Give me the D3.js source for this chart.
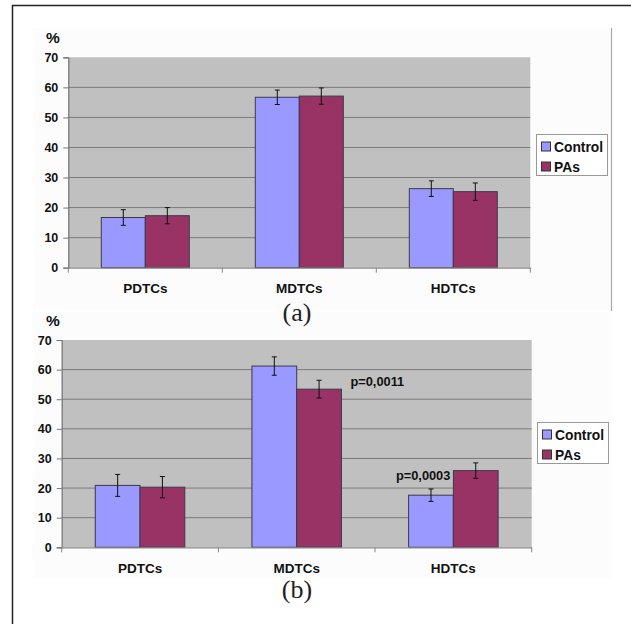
<!DOCTYPE html>
<html><head><meta charset="utf-8">
<script src="https://cdn.jsdelivr.net/npm/d3@7"></script>
<style>body{margin:0;background:#fff}svg{display:block}</style>
</head><body>
<svg id="c" width="631" height="624"></svg>
<script>
const categories = ["PDTCs", "MDTCs", "HDTCs"];
const seriesNames = ["Control", "PAs"];
const yTicks = [0, 10, 20, 30, 40, 50, 60, 70];
// panel (a)
const controlA = [16.7, 56.7, 26.3];
const controlAErr = [2.6, 2.4, 2.6];
const pasA = [17.3, 57.1, 25.3];
const pasAErr = [2.7, 2.7, 2.9];
// panel (b)
const controlB = [20.9, 61.2, 17.6];
const controlBErr = [3.7, 3.1, 2.1];
const pasB = [20.3, 53.4, 25.9];
const pasBErr = [3.6, 3.0, 2.6];
const pLabelsB = [{cat: "MDTCs", series: "PAs", text: "p=0,0011"}, {cat: "HDTCs", series: "Control", text: "p=0,0003"}];

const colors = {"Control": "#9999ff", "PAs": "#993366"};
const FONT = "Arial, 'Liberation Sans', sans-serif";
const svg = d3.select("#c");

// faint chart-area backgrounds
svg.append("rect").attr("x", 33).attr("y", 28).attr("width", 578).attr("height", 282).attr("fill", "#fcfcfc");
svg.append("rect").attr("x", 33).attr("y", 312).attr("width", 578).attr("height", 266).attr("fill", "#fcfcfc");

// outer frame
svg.append("path").attr("d", "M12.5,624 L12.5,5.5 L631,5.5").attr("fill", "none").attr("stroke", "#222").attr("stroke-width", 1.5);
svg.append("line").attr("x1", 611.5).attr("x2", 611.5).attr("y1", 28).attr("y2", 311).attr("stroke", "#aaa").attr("stroke-width", 1.2);

function panel(cfg) {
  const g = svg.append("g");
  const x = d3.scaleBand().domain(categories).range([cfg.left, cfg.right]).paddingInner(0).paddingOuter(0);
  const y = d3.scaleLinear().domain([0, 70]).range([cfg.bottom, cfg.top]);
  const bw = x.bandwidth() / 3.5;
  const xs = d3.scaleBand().domain(seriesNames).range([0, bw * 2]);
  g.append("rect").attr("x", cfg.left).attr("y", cfg.top).attr("width", cfg.right - cfg.left).attr("height", cfg.bottom - cfg.top).attr("fill", "#c0c0c0");
  g.selectAll("line.grid").data(yTicks.filter(t => t > 0 && t < 70)).join("line")
    .attr("x1", cfg.left).attr("x2", cfg.right).attr("y1", d => y(d)).attr("y2", d => y(d))
    .attr("stroke", "#7a7a7a").attr("stroke-width", 1);
  const data = [];
  categories.forEach((c, i) => {
    data.push({c, s: "Control", v: cfg.control[i], e: cfg.controlErr[i]});
    data.push({c, s: "PAs", v: cfg.pas[i], e: cfg.pasErr[i]});
  });
  const bx = d => x(d.c) + x.bandwidth() / 2 - bw + xs(d.s);
  g.selectAll("rect.bar").data(data).join("rect")
    .attr("x", bx).attr("y", d => y(d.v)).attr("width", bw).attr("height", d => y(0) - y(d.v))
    .attr("fill", d => colors[d.s]).attr("stroke", "#3a3a4a").attr("stroke-width", 1);
  const eb = g.selectAll("g.err").data(data).join("g").attr("stroke", "#111").attr("stroke-width", 1);
  eb.append("line").attr("x1", d => bx(d) + bw / 2).attr("x2", d => bx(d) + bw / 2).attr("y1", d => y(d.v + d.e)).attr("y2", d => y(d.v - d.e));
  eb.append("line").attr("x1", d => bx(d) + bw / 2 - 2.5).attr("x2", d => bx(d) + bw / 2 + 2.5).attr("y1", d => y(d.v + d.e)).attr("y2", d => y(d.v + d.e));
  eb.append("line").attr("x1", d => bx(d) + bw / 2 - 2.5).attr("x2", d => bx(d) + bw / 2 + 2.5).attr("y1", d => y(d.v - d.e)).attr("y2", d => y(d.v - d.e));
  // y axis
  const ya = g.append("g").attr("transform", `translate(${cfg.left},0)`)
    .call(d3.axisLeft(y).tickValues(yTicks).tickSize(5).tickPadding(5).tickFormat(d3.format("d")));
  ya.select(".domain").attr("stroke", "#777").attr("stroke-width", 1.2);
  ya.selectAll(".tick line").attr("stroke", "#777");
  ya.selectAll("text").attr("font-family", FONT).attr("font-weight", "bold").attr("font-size", 12.5).attr("fill", "#111");
  // x axis
  const xa = g.append("g").attr("transform", `translate(0,${cfg.bottom})`)
    .call(d3.axisBottom(x).tickSize(0).tickPadding(16));
  xa.select(".domain").attr("stroke", "#888").attr("stroke-width", 1.2);
  xa.selectAll("text").attr("font-family", FONT).attr("font-weight", "bold").attr("font-size", 13.5).attr("fill", "#111");
  g.selectAll("line.xt").data([cfg.left, ...categories.map(c => x(c) + x.bandwidth())]).join("line")
    .attr("x1", d => d).attr("x2", d => d).attr("y1", cfg.bottom).attr("y2", cfg.bottom + 5).attr("stroke", "#888");
  g.append("text").attr("x", cfg.pctX).attr("y", cfg.top - 14).attr("font-family", FONT).attr("font-weight", "bold").attr("font-size", 15.5).attr("fill", "#111").text("%");
  g.append("text").attr("x", 297).attr("y", cfg.subY).attr("text-anchor", "middle").attr("font-family", "'Times New Roman', 'Liberation Serif', serif").attr("font-size", 26).attr("fill", "#222").text(cfg.sub);
  // legend
  const lg = g.append("g").attr("transform", `translate(${cfg.leg[0]},${cfg.leg[1]})`);
  lg.append("rect").attr("x", 0).attr("y", 0).attr("width", 71).attr("height", 41).attr("fill", "#fff").attr("stroke", "#999");
  seriesNames.forEach((s, i) => {
    lg.append("rect").attr("x", 5).attr("y", 7.5 + i * 20).attr("width", 9).attr("height", 9).attr("fill", colors[s]).attr("stroke", "#333");
    lg.append("text").attr("x", 17.5).attr("y", 17 + i * 20).attr("font-family", FONT).attr("font-weight", "bold").attr("font-size", 13.8).attr("fill", "#111").text(s);
  });
  if (cfg.plabels) {
    cfg.plabels.forEach(p => {
      const d = data.find(q => q.c === p.cat && q.s === p.series);
      const top = y(d.v + d.e);
      const t = g.append("text").attr("font-family", FONT).attr("font-weight", "bold").attr("font-size", 12.8).attr("fill", "#111").text(p.text);
      if (p.series === "PAs") {
        t.attr("x", bx(d) + bw + 9).attr("y", y(d.v) - 3);
      } else {
        t.attr("x", bx(d) + bw - 3).attr("y", top - 9).attr("text-anchor", "end");
      }
    });
  }
}

panel({left: 68.3, right: 530.3, top: 57.3, bottom: 267.7, control: controlA, controlErr: controlAErr, pas: pasA, pasErr: pasAErr,
  pctX: 46, subY: 321, sub: "(a)", leg: [536.5, 134.5]});
panel({left: 61.7, right: 531.7, top: 340, bottom: 547.3, control: controlB, controlErr: controlBErr, pas: pasB, pasErr: pasBErr,
  pctX: 46, subY: 598, sub: "(b)", leg: [537.5, 422.5], plabels: pLabelsB});
</script>
</body></html>
